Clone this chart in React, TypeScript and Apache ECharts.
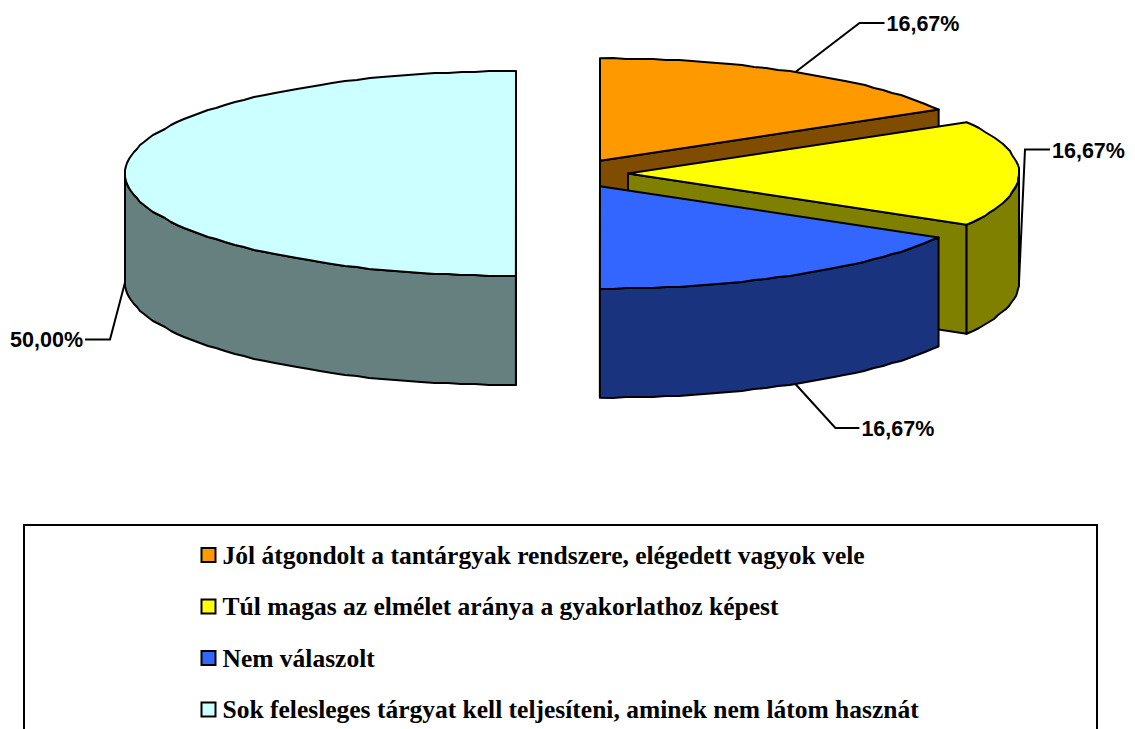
import React, { useEffect, useRef } from "react";
import * as echarts from "echarts";

const sliceNames = [
  "Jól átgondolt a tantárgyak rendszere, elégedett vagyok vele",
  "Túl magas az elmélet aránya a gyakorlathoz képest",
  "Nem válaszolt",
  "Sok felesleges tárgyat kell teljesíteni, aminek nem látom hasznát",
];
const sliceValues = [16.67, 16.67, 16.67, 50.0];
const topColors = ["#FF9900", "#FFFF00", "#3366FF", "#CCFFFF"];
const sideColors = ["#804D00", "#808000", "#19337F", "#668080"];

// Pie projection
const CX = 572, CY = 173.5, RX = 391, RY = 102.5, DEPTH = 109, EXPLODE = 56;
// Leader-line shape for each slice: elbow and line end, relative to the rim anchor
const leaders = [
  { anchorTop: true, dx1: 64, dy1: -49, dx2: 89 },
  { anchorTop: false, dx1: 6, dy1: -133, dx2: 31 },
  { anchorTop: false, dx1: 40, dy1: 44, dx2: 64 },
  { anchorTop: false, dx1: -15, dy1: 57, dx2: -40 },
];

const rad = (d: number) => (d * Math.PI) / 180;
const total = sliceValues.reduce((a, b) => a + b, 0);
const starts = sliceValues.map((_, i) =>
  (sliceValues.slice(0, i).reduce((a, b) => a + b, 0) / total) * 360
);
const ends = starts.map((s, i) => s + (sliceValues[i] / total) * 360);

function arcPoints(cx: number, cy: number, a: number, b: number) {
  const n = Math.max(2, Math.ceil((b - a) / 2));
  const pts: number[][] = [];
  for (let i = 0; i <= n; i++) {
    const t = rad(a + ((b - a) * i) / n);
    const x = cx + RX * Math.sin(t);
    const y = cy - RY * Math.cos(t);
    pts.push(i === 0 || i === n ? [x, y] : [Math.round(x), Math.round(y)]);
  }
  return pts;
}

function renderSlice(i: number) {
  const a = starts[i], b = ends[i];
  const mid = (a + b) / 2;
  const cx = CX + EXPLODE * Math.sin(rad(mid));
  const cy = CY - EXPLODE * Math.cos(rad(mid)) * (RY / RX);
  const line = { stroke: "#000", lineWidth: 2, lineJoin: "round" };
  const children: any[] = [];
  const poly = (points: number[][], fill: string) =>
    children.push({ type: "polygon", shape: { points }, style: { fill, ...line } });
  const wall = (ang: number) => {
    const x = cx + RX * Math.sin(rad(ang));
    const y = cy - RY * Math.cos(rad(ang));
    poly([[cx, cy], [x, y], [x, y + DEPTH], [cx, cy + DEPTH]], sideColors[i]);
  };
  if (Math.sin(rad(a)) < -1e-6) wall(a);
  if (Math.sin(rad(b)) > 1e-6) wall(b);
  const fa = Math.max(a, 90), fb = Math.min(b, 270);
  if (fb > fa) {
    const top = arcPoints(cx, cy, fa, fb);
    const bottom = top.map(([x, y]) => [x, y + DEPTH]).reverse();
    poly([...top, ...bottom], sideColors[i]);
  }
  poly([[cx, cy], ...arcPoints(cx, cy, a, b)], topColors[i]);

  const l = leaders[i];
  const ax = cx + RX * Math.sin(rad(mid));
  const ay = cy - RY * Math.cos(rad(mid)) + (l.anchorTop ? 0 : DEPTH);
  const ey = ay + l.dy1;
  children.push({
    type: "polyline",
    shape: { points: [[ax, ay], [ax + l.dx1, ey], [ax + l.dx2, ey]] },
    style: { fill: "none", stroke: "#000", lineWidth: 2 },
  });
  const right = l.dx2 > l.dx1;
  children.push({
    type: "text",
    style: {
      text: sliceValues[i].toFixed(2).replace(".", ",") + "%",
      x: ax + l.dx2 + (right ? 2 : -2),
      y: ey + 1,
      align: right ? "left" : "right",
      verticalAlign: "middle",
      fontFamily: "Liberation Sans",
      fontWeight: "bold",
      fontSize: 21.5,
      fill: "#000",
    },
  });
  return { type: "group", children };
}

export default function App() {
  const ref = useRef<HTMLDivElement>(null);
  useEffect(() => {
    const chart = echarts.init(ref.current!, undefined, { renderer: "svg" });
    chart.setOption({
      animation: false,
      backgroundColor: "#fff",
      graphic: [
        {
          type: "polyline",
          shape: { points: [[24, 729], [24, 525], [1097, 525], [1097, 729]] },
          style: { fill: "none", stroke: "#000", lineWidth: 2 },
        },
      ],
      legend: {
        orient: "vertical",
        left: 200.5,
        top: 542,
        padding: 0,
        align: "left",
        itemWidth: 14,
        itemHeight: 14,
        itemGap: 25.5,
        selectedMode: false,
        icon: "rect",
        data: sliceNames.map((name, i) => ({
          name,
          itemStyle: { color: topColors[i], borderColor: "#000", borderWidth: 2 },
        })),
        textStyle: {
          fontFamily: "Liberation Serif",
          fontWeight: "bold",
          fontSize: 25.5,
          color: "#000",
          padding: [0, 0, 0, 2],
        },
      },
      series: sliceNames.map((name, i) => ({
        type: "custom",
        name,
        coordinateSystem: "none",
        silent: true,
        z: i + 2,
        itemStyle: { color: topColors[i] },
        data: [sliceValues[i]],
        renderItem: () => renderSlice(i),
      })),
    });
    return () => chart.dispose();
  }, []);
  return <div ref={ref} style={{ position: "fixed", left: 0, top: 0, width: 1135, height: 729 }} />;
}
